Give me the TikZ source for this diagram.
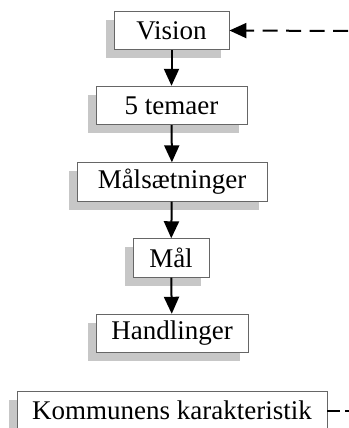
\documentclass[tikz,border=0pt]{standalone}
\usepackage{fontspec}
\setmainfont{Liberation Serif}
\usetikzlibrary{arrows.meta,shadows}
\begin{document}
\begin{tikzpicture}[x=1pt,y=-1pt,
  box/.style={draw=black!60, line width=0.9pt, fill=white, inner sep=0pt,
    minimum height=38.5pt, font=\fontsize{27}{30}\selectfont,
    drop shadow={shadow xshift=-8.5pt, shadow yshift=-8.5pt, opacity=1, fill=black!22}},
  tip/.style={-{Triangle[length=17pt,width=15pt]}},
  flow/.style={line width=2pt, tip},
  link/.style={line width=2pt, dash pattern=on 15pt off 8.5pt}]
\useasboundingbox (0,0) rectangle (348,428);
\node[box, minimum width=115pt] (vision) at (171.5,30.5) {Vision};
\node[box, minimum width=151pt] (tema) at (171.5,105.5) {5 temaer};
\node[box, minimum width=190pt] (malsat) at (172,182) {Målsætninger};
\node[box, minimum width=76pt] (mal) at (171,258) {Mål};
\node[box, minimum width=152pt] (handl) at (172,333.5) {Handlinger};
\node[box, minimum width=310pt] (komm) at (172,410.5) {Kommunens karakteristik};
\coordinate (dashin) at (348,31);
\coordinate (dashout) at (360,410.5);
\draw[flow] (vision) -- (tema);
\draw[flow] (tema) -- (malsat);
\draw[flow] (malsat) -- (mal);
\draw[flow] (mal) -- (handl);
\draw[link, tip] (dashin) -- (vision.east);
\draw[link, dash pattern=on 13pt off 5pt] (komm.east) -- (dashout);
\end{tikzpicture}
\end{document}
